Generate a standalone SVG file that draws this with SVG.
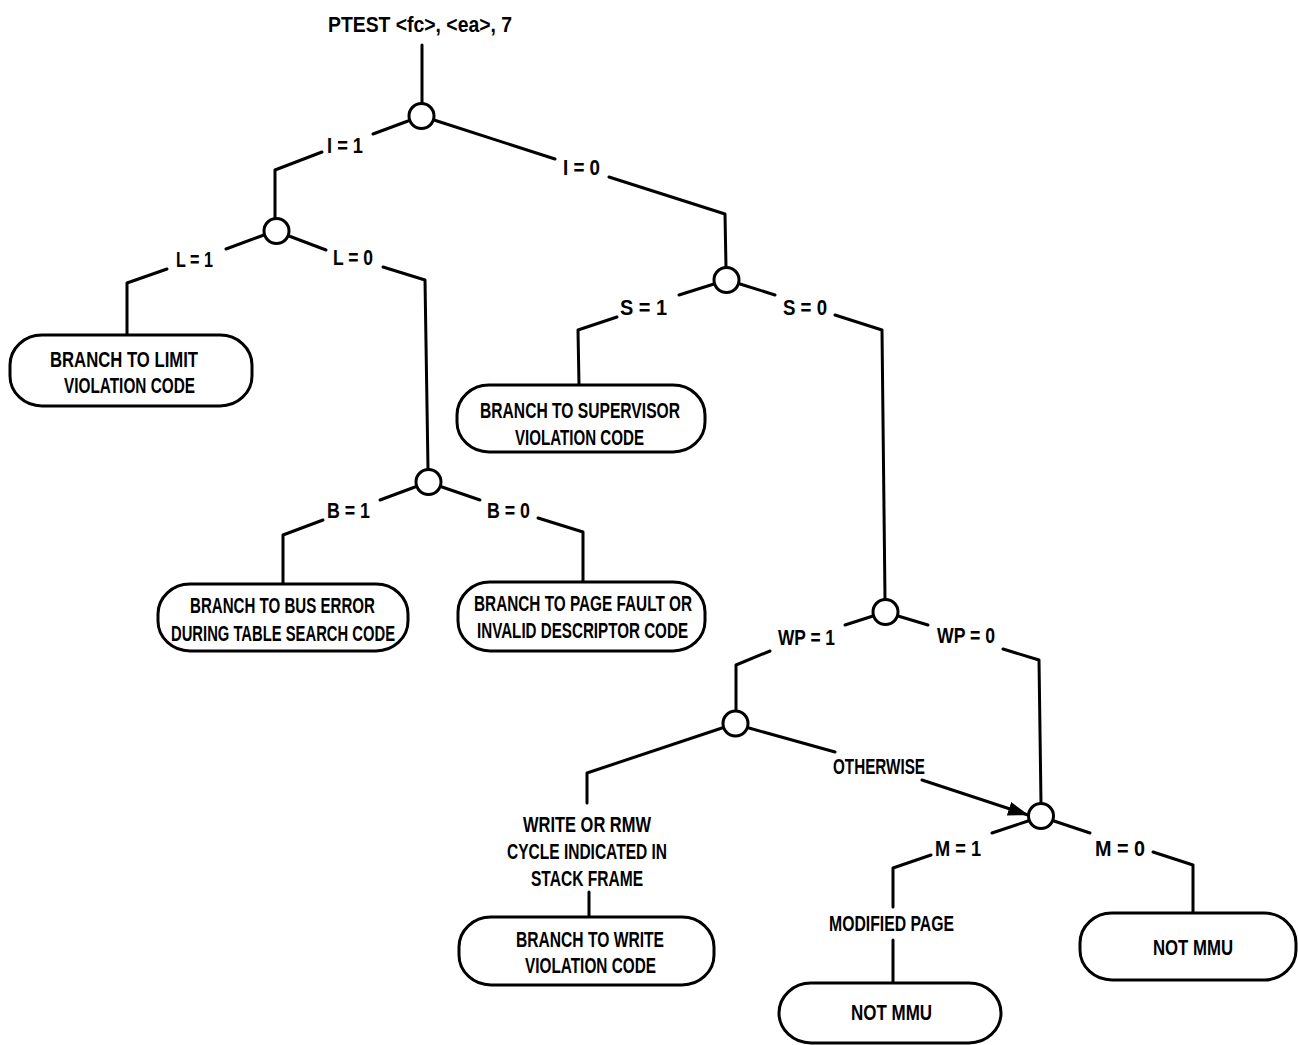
<svg xmlns="http://www.w3.org/2000/svg" width="1298" height="1045" viewBox="0 0 1298 1045">
<style>
.c{fill:none;stroke:#000;stroke-width:3;stroke-linejoin:round;stroke-linecap:round}
.n{fill:#fff;stroke:#000;stroke-width:3}
.b{fill:#fff;stroke:#000;stroke-width:3}
text{font-family:"Liberation Sans",Arial,sans-serif;font-weight:bold;font-size:22px;fill:#000}
</style>
<defs>
<marker id="ah" markerUnits="userSpaceOnUse" markerWidth="22" markerHeight="16" refX="20" refY="7" orient="auto">
<path d="M0,0 L21,7 L0,14 z" fill="#000"/>
</marker>
</defs>
<rect width="1298" height="1045" fill="#fff"/>
<g id="connectors">
<polyline class="c" points="422,45 422,103"/>
<polyline class="c" points="408,121 373,134"/>
<polyline class="c" points="322,152 275,170 275,219"/>
<polyline class="c" points="434,120 555,159"/>
<polyline class="c" points="609,177 725,214 726,267"/>
<polyline class="c" points="264,235 226,249"/>
<polyline class="c" points="167,269 127,283 127,335"/>
<polyline class="c" points="289,236 326,250"/>
<polyline class="c" points="383,267 425,280 428,469"/>
<polyline class="c" points="714,284 679,295"/>
<polyline class="c" points="617,317 578,330 579,385"/>
<polyline class="c" points="740,284 775,295"/>
<polyline class="c" points="835,315 882,330 885,599"/>
<polyline class="c" points="415,487 380,500"/>
<polyline class="c" points="323,520 283,535 283,584"/>
<polyline class="c" points="442,487 480,500"/>
<polyline class="c" points="538,518 583,532 583,582"/>
<polyline class="c" points="873,616 845,625"/>
<polyline class="c" points="770,651 736,665 736,711"/>
<polyline class="c" points="898,616 928,625"/>
<polyline class="c" points="1003,649 1039,660 1041,803"/>
<polyline class="c" points="722,728 587,773 587,803"/>
<polyline class="c" points="589,892 589,917"/>
<polyline class="c" points="749,728 835,752"/>
<line class="c" x1="922" y1="780" x2="1028" y2="815" marker-end="url(#ah)"/>
<polyline class="c" points="1028,821 992,833"/>
<polyline class="c" points="931,855 893,868 893,907"/>
<polyline class="c" points="893,940 893,983"/>
<polyline class="c" points="1054,821 1090,833"/>
<polyline class="c" points="1153,852 1193,865 1193,913"/>
</g>
<g id="title"><text x="328" y="32" textLength="184" lengthAdjust="spacingAndGlyphs">PTEST &lt;fc&gt;, &lt;ea&gt;, 7</text></g>
<g id="node1"><circle class="n" cx="421.5" cy="116" r="12.5"/>
<text x="327" y="153" textLength="36" lengthAdjust="spacingAndGlyphs">I = 1</text>
<text x="563" y="175" textLength="37" lengthAdjust="spacingAndGlyphs">I = 0</text></g>
<g id="node2"><circle class="n" cx="276.5" cy="231" r="12.5"/>
<text x="176" y="267" textLength="37" lengthAdjust="spacingAndGlyphs">L = 1</text>
<text x="333" y="265" textLength="40" lengthAdjust="spacingAndGlyphs">L = 0</text></g>
<g id="box-limit"><rect class="b" x="10" y="335" width="242" height="71" rx="32" ry="30"/>
<text x="50" y="367" textLength="148" lengthAdjust="spacingAndGlyphs">BRANCH TO LIMIT</text>
<text x="64" y="393" textLength="131" lengthAdjust="spacingAndGlyphs">VIOLATION CODE</text></g>
<g id="node3"><circle class="n" cx="726.5" cy="280" r="12.5"/>
<text x="620" y="315" textLength="47" lengthAdjust="spacingAndGlyphs">S = 1</text>
<text x="783" y="315" textLength="44" lengthAdjust="spacingAndGlyphs">S = 0</text></g>
<g id="box-supervisor"><rect class="b" x="457" y="385" width="248" height="67" rx="32" ry="30"/>
<text x="480" y="418" textLength="200" lengthAdjust="spacingAndGlyphs">BRANCH TO SUPERVISOR</text>
<text x="515" y="445" textLength="129" lengthAdjust="spacingAndGlyphs">VIOLATION CODE</text></g>
<g id="node4"><circle class="n" cx="428.5" cy="482" r="12.5"/>
<text x="327" y="518" textLength="43" lengthAdjust="spacingAndGlyphs">B = 1</text>
<text x="487" y="518" textLength="43" lengthAdjust="spacingAndGlyphs">B = 0</text></g>
<g id="box-bus-error"><rect class="b" x="158" y="584" width="250" height="67" rx="32" ry="30"/>
<text x="190" y="613" textLength="185" lengthAdjust="spacingAndGlyphs">BRANCH TO BUS ERROR</text>
<text x="171" y="641" textLength="224" lengthAdjust="spacingAndGlyphs">DURING TABLE SEARCH CODE</text></g>
<g id="box-page-fault"><rect class="b" x="458" y="582" width="247" height="69" rx="32" ry="30"/>
<text x="474" y="611" textLength="218" lengthAdjust="spacingAndGlyphs">BRANCH TO PAGE FAULT OR</text>
<text x="477" y="638" textLength="211" lengthAdjust="spacingAndGlyphs">INVALID DESCRIPTOR CODE</text></g>
<g id="node5"><circle class="n" cx="885.5" cy="612" r="12.5"/>
<text x="778" y="645" textLength="57" lengthAdjust="spacingAndGlyphs">WP = 1</text>
<text x="937" y="643" textLength="58" lengthAdjust="spacingAndGlyphs">WP = 0</text></g>
<g id="node6"><circle class="n" cx="735.5" cy="723.5" r="12.5"/>
<text x="833" y="774" textLength="92" lengthAdjust="spacingAndGlyphs">OTHERWISE</text>
<text x="523" y="832" textLength="128" lengthAdjust="spacingAndGlyphs">WRITE OR RMW</text>
<text x="507" y="859" textLength="160" lengthAdjust="spacingAndGlyphs">CYCLE INDICATED IN</text>
<text x="531" y="886" textLength="112" lengthAdjust="spacingAndGlyphs">STACK FRAME</text></g>
<g id="box-write"><rect class="b" x="459" y="917" width="255" height="68" rx="32" ry="30"/>
<text x="516" y="947" textLength="148" lengthAdjust="spacingAndGlyphs">BRANCH TO WRITE</text>
<text x="525" y="973" textLength="131" lengthAdjust="spacingAndGlyphs">VIOLATION CODE</text></g>
<g id="node7"><circle class="n" cx="1041" cy="816" r="12.5"/>
<text x="935" y="856" textLength="46" lengthAdjust="spacingAndGlyphs">M = 1</text>
<text x="1095" y="856" textLength="50" lengthAdjust="spacingAndGlyphs">M = 0</text>
<text x="829" y="931" textLength="125" lengthAdjust="spacingAndGlyphs">MODIFIED PAGE</text></g>
<g id="box-not-mmu-1"><rect class="b" x="779" y="983" width="222" height="60" rx="32" ry="30"/>
<text x="851" y="1020" textLength="81" lengthAdjust="spacingAndGlyphs">NOT MMU</text></g>
<g id="box-not-mmu-2"><rect class="b" x="1080" y="913" width="216" height="67" rx="32" ry="30"/>
<text x="1153" y="955" textLength="80" lengthAdjust="spacingAndGlyphs">NOT MMU</text></g>
</svg>
